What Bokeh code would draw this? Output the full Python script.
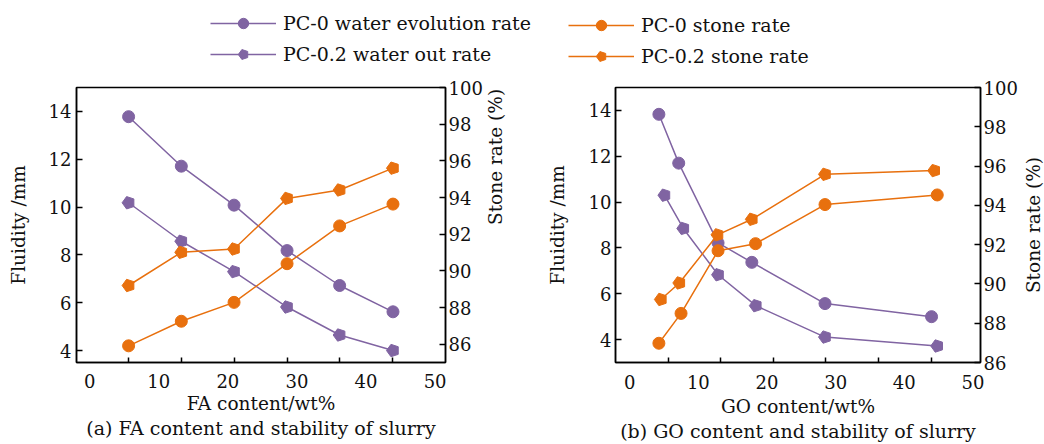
import math
from bokeh.plotting import figure
from bokeh.models import (Range1d, LinearAxis, FixedTicker, Title, Legend,
                          LegendItem)
from bokeh.layouts import column, row
from bokeh.embed import file_html
from bokeh.resources import INLINE

# ---------------- data ----------------
x_ticks = [0, 10, 20, 30, 40, 50]
point_ticks = [5.64, 13.27, 20.90, 28.57, 36.18, 43.90]

fa_content = [5.64, 13.27, 20.90, 28.57, 36.18, 43.90]
fa_pc0_water = [13.78, 11.71, 10.08, 8.18, 6.72, 5.62]
fa_pc02_water = [10.18, 8.57, 7.30, 5.82, 4.65, 4.00]
fa_pc0_stone = [85.91, 87.25, 88.28, 90.39, 92.45, 93.64]
fa_pc02_stone = [89.20, 91.01, 91.19, 93.95, 94.41, 95.60]

go_pc0_water_x = [4.25, 7.14, 12.87, 17.79, 28.45, 43.97]
go_pc0_water = [13.83, 11.70, 8.22, 7.37, 5.57, 5.00]
go_pc02_water_x = [5.06, 7.81, 12.87, 18.37, 28.45, 44.80]
go_pc02_water = [10.30, 8.85, 6.83, 5.48, 4.11, 3.72]
go_pc0_stone_x = [4.25, 7.48, 12.87, 18.33, 28.45, 44.80]
go_pc0_stone = [86.98, 88.50, 91.69, 92.05, 94.04, 94.53]
go_pc02_stone_x = [4.54, 7.23, 12.79, 17.79, 28.45, 44.36]
go_pc02_stone = [89.21, 90.05, 92.50, 93.29, 95.58, 95.77]

fluidity_ticks = [4, 6, 8, 10, 12, 14]
stone_ticks = [86, 88, 90, 92, 94, 96, 98, 100]

labels = ["PC-0 water evolution rate", "PC-0.2 water out rate",
          "PC-0 stone rate", "PC-0.2 stone rate"]

FONT = "DejaVu Serif"
PURPLE = "#8064A2"
ORANGE = "#E8700E"
TXT = "#111111"
TICK_FS = "18px"
LAB_FS = "18.5px"
CAP_FS = "19px"
LEG_FS = "19px"
H = 370

HAS_NGON = hasattr(figure(), "ngon")


def pentagon(p, x, y, color, **kw):
    if HAS_NGON:
        return p.ngon(x=x, y=y, radius=6.5, radius_units="screen", n=5,
                      angle=1.5708, fill_color=color, line_color=color, **kw)
    return p.scatter(x=x, y=y, marker="hex", size=12, fill_color=color,
                     line_color=color, **kw)


def style_axis(ax):
    ax.major_label_text_font = FONT
    ax.major_label_text_font_size = TICK_FS
    ax.major_label_text_color = TXT
    ax.axis_label_text_font = FONT
    ax.axis_label_text_font_size = LAB_FS
    ax.axis_label_text_font_style = "normal"
    ax.axis_label_text_color = TXT
    ax.axis_line_color = "black"
    ax.axis_line_width = 1.5
    ax.major_tick_line_color = "black"
    ax.major_tick_line_width = 1.5
    ax.major_tick_in = 6
    ax.major_tick_out = 0
    ax.minor_tick_line_color = None


def make_panel(width, xr, yl, yr, bt, bb, bl, br, xlabel, caption,
               lstand, llstand, rstand, xstand, xlstand, capstand, series,
               right_label=None):
    p = figure(width=width, height=H, output_backend="svg", toolbar_location=None,
               x_range=Range1d(*xr), y_range=Range1d(*yl), title=None,
               x_axis_location=None,
               min_border_top=bt, min_border_left=bl, min_border_right=br,
               min_border_bottom=bb)
    p.grid.visible = False
    p.outline_line_color = "black"
    p.outline_line_width = 1.5
    p.extra_y_ranges = {"r": Range1d(*yr)}

    # x axis: labels 0..50, tick marks at the measurement positions
    xl = LinearAxis(ticker=FixedTicker(ticks=x_ticks, minor_ticks=point_ticks),
                    axis_label=xlabel)
    style_axis(xl)
    xl.major_tick_line_color = None
    xl.minor_tick_line_color = "black"
    xl.minor_tick_line_width = 1.5
    xl.minor_tick_in = 5
    xl.minor_tick_out = 0
    xl.major_label_standoff = xstand
    xl.axis_label_standoff = xlstand
    p.add_layout(xl, "below")

    # caption line under the axis title
    cap = LinearAxis(ticker=FixedTicker(ticks=[]), axis_label=caption)
    style_axis(cap)
    cap.axis_line_color = None
    cap.major_tick_line_color = None
    cap.major_label_standoff = 0
    cap.axis_label_text_font_size = CAP_FS
    cap.axis_label_standoff = capstand
    p.add_layout(cap, "below")

    ya = p.yaxis[0]
    style_axis(ya)
    ya.ticker = FixedTicker(ticks=fluidity_ticks)
    ya.axis_label = "Fluidity /mm"
    ya.major_label_standoff = lstand
    ya.axis_label_standoff = llstand

    ra = LinearAxis(y_range_name="r", ticker=FixedTicker(ticks=stone_ticks))
    style_axis(ra)
    ra.major_label_standoff = rstand
    if right_label is not None:
        ra.axis_label = right_label[0]
        ra.axis_label_standoff = right_label[1]
        ra.axis_label_orientation = math.pi / 2
    p.add_layout(ra, "right")

    for (x, y, col, mk, rng) in series:
        kw = {} if rng is None else {"y_range_name": rng}
        p.line(x=x, y=y, line_color=col, line_width=1.5, **kw)
        if mk == "circle":
            p.scatter(x=x, y=y, marker="circle", size=12, fill_color=col,
                      line_color=col, **kw)
        else:
            pentagon(p, x, y, col, **kw)
    return p


def label_strip(width, bt, bb, bl, text):
    """narrow companion figure carrying a bottom-to-top axis title"""
    s = figure(width=width, height=H, output_backend="svg", toolbar_location=None,
               x_range=Range1d(0, 1), y_range=Range1d(0, 1), title=None,
               x_axis_location=None, y_axis_location=None, outline_line_color=None,
               min_border_top=bt, min_border_bottom=bb, min_border_left=bl,
               min_border_right=0)
    s.grid.visible = False
    s.add_layout(Title(text=text, align="center", text_font=FONT, text_font_size=LAB_FS,
                       text_font_style="normal", text_color=TXT, standoff=0), "left")
    return s


p1 = make_panel(535, (-1.9, 51.5), (3.5, 15), (85, 100), 13, 79, 76, 90,
                "FA content/wt%", "(a) FA content and stability of slurry",
                5, 17, 3, 11, 2, 0,
                [(fa_content, fa_pc0_water, PURPLE, "circle", None),
                 (fa_content, fa_pc02_water, PURPLE, "pent", None),
                 (fa_content, fa_pc0_stone, ORANGE, "circle", "r"),
                 (fa_content, fa_pc02_stone, ORANGE, "pent", "r")],
                right_label=("Stone rate (%)", 10))

p2 = make_panel(485, (-2.07, 51.1), (3, 15), (86, 100), 11, 82, 80, 37,
                "GO content/wt%", "(b) GO content and stability of slurry",
                4, 18, 3, 12, 4, 0,
                [(go_pc0_water_x, go_pc0_water, PURPLE, "circle", None),
                 (go_pc02_water_x, go_pc02_water, PURPLE, "pent", None),
                 (go_pc0_stone_x, go_pc0_stone, ORANGE, "circle", "r"),
                 (go_pc02_stone_x, go_pc02_stone, ORANGE, "pent", "r")])
pB = label_strip(24, 11, 82, 23, "Stone rate (%)")

# ---------------- legend figure ----------------
leg = figure(width=1044, height=74, output_backend="svg", toolbar_location=None,
             x_range=Range1d(0, 1), y_range=Range1d(0, 1),
             x_axis_location=None, y_axis_location=None, min_border=0,
             outline_line_color=None)
leg.grid.visible = False

OFF = [-5.0]  # legend-only renderers sit outside the visible range


def dummy(col, mk):
    ln = leg.line(x=OFF, y=OFF, line_color=col, line_width=1.5)
    if mk == "circle":
        m = leg.scatter(x=OFF, y=OFF, marker="circle", size=10, fill_color=col, line_color=col)
    else:
        m = pentagon(leg, OFF, OFF, col)
    return [ln, m]


items_left = [LegendItem(label=labels[0], renderers=dummy(PURPLE, "circle")),
              LegendItem(label=labels[1], renderers=dummy(PURPLE, "pent"))]
items_right = [LegendItem(label=labels[2], renderers=dummy(ORANGE, "circle")),
               LegendItem(label=labels[3], renderers=dummy(ORANGE, "pent"))]

for items, loc in ((items_left, (210, 7)), (items_right, (568, 5))):
    lg = Legend(items=items, location=loc, orientation="vertical", padding=0,
                margin=0, spacing=5, glyph_width=66, glyph_height=26,
                label_height=26, label_standoff=7, label_text_font=FONT,
                label_text_font_size=LEG_FS, label_text_color=TXT,
                border_line_color=None, background_fill_alpha=0)
    leg.add_layout(lg)

layout = column(leg, row(p1, p2, pB))
open("out.html", "w").write(file_html(layout, INLINE))
